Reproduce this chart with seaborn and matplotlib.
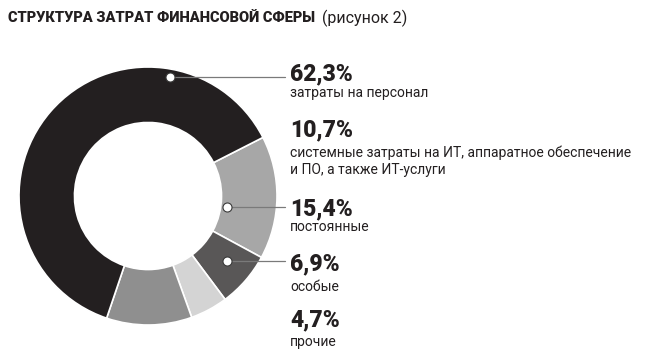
import numpy as np
import matplotlib
matplotlib.use('Agg')
import matplotlib.pyplot as plt
import seaborn as sns

# data
shares = [15.4, 6.9, 4.7, 10.7, 62.3]
share_labels = ['15,4%', '6,9%', '4,7%', '10,7%', '62,3%']
descriptions = ['постоянные', 'особые', 'прочие',
                'системные затраты на ИТ, аппаратное обеспечение\nи ПО, а также ИТ-услуги',
                'затраты на персонал']
colors = ['#a7a7a7', '#595757', '#d4d4d4', '#8f8f8f', '#231f20']

sns.set_theme(style='white')
plt.rcParams['font.family'] = ['Roboto', 'DejaVu Sans']

W, H = 650, 358
fig = plt.figure(figsize=(6.5, 3.58), dpi=100)

# donut axes: centre (148,196) px, radius 129 px
cx, cy, r = 148, 196, 129
ax = fig.add_axes([(cx - r) / W, (H - cy - r) / H, 2 * r / W, 2 * r / H])
wedges, _ = ax.pie(shares, colors=colors, startangle=27, counterclock=False,
                   radius=1, wedgeprops=dict(width=0.43, edgecolor='white', linewidth=1.2))
ax.set_xlim(-1, 1)
ax.set_ylim(-1, 1)
ax.set_aspect('equal')
ax.axis('off')

# leader dots: (wedge index, angle deg, radius)
line_end = (285 - cx) / r
for idx, ang, rad in [(4, 79.5, 0.935), (0, -8, 0.62), (1, -39.5, 0.79)]:
    x = rad * np.cos(np.radians(ang))
    y = rad * np.sin(np.radians(ang))
    ax.plot([x, line_end], [y, y], color='#7a7a7a', lw=0.9, clip_on=False, zorder=3)
    ax.plot(x, y, 'o', ms=6.5, mfc='white', mec='#3a3a3a', mew=0.8, clip_on=False, zorder=4)

# title
fig.text(8 / W, 1 - 18 / H, 'СТРУКТУРА ЗАТРАТ ФИНАНСОВОЙ СФЕРЫ', fontsize=10.5,
         fontweight='black', color='#231f20', va='center', ha='left')
fig.text(322 / W, 1 - 18 / H, '(рисунок 2)', fontsize=11.5, color='#231f20',
         va='center', ha='left')

# right-hand labels (pixel centres)
label_x = 290 / W
order = [4, 3, 0, 1, 2]
pct_y = [74, 130, 209, 264, 320]
desc_y = [93, 153, 227, 287, 342]
for k, i in enumerate(order):
    fig.text(label_x, 1 - pct_y[k] / H, share_labels[i], fontsize=16.5, fontweight='black',
             color='#231f20', va='center', ha='left')
    txt = descriptions[i]
    if '\n' in txt:
        fig.text(label_x, 1 - (desc_y[k] + 8) / H, txt, fontsize=10, color='#231f20',
                 va='center', ha='left', linespacing=1.25)
    else:
        fig.text(label_x, 1 - desc_y[k] / H, txt, fontsize=10, color='#231f20',
                 va='center', ha='left')

fig.savefig('out.png', dpi=100, facecolor='white')
